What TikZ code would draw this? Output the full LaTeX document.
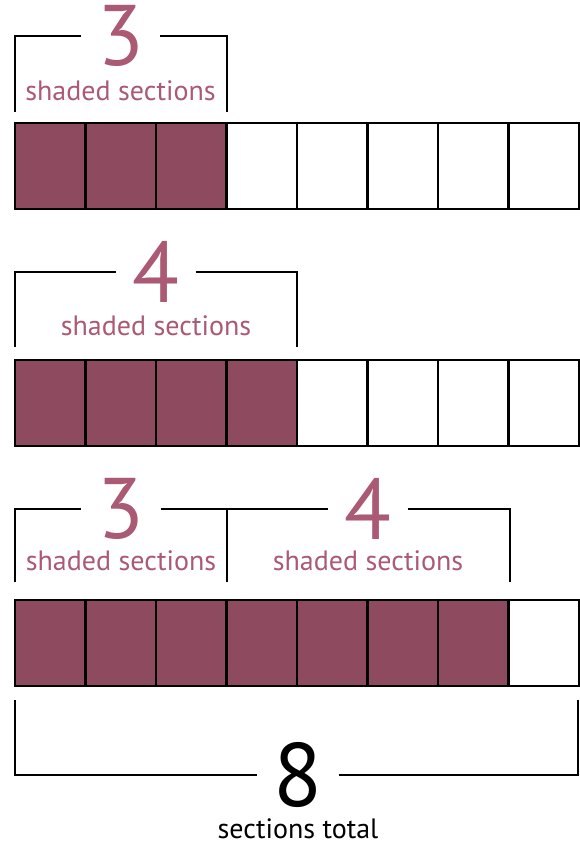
\documentclass[tikz,border=0pt]{standalone}
\usepackage{fontspec}
\setmainfont{PT Sans}
\definecolor{fillshade}{HTML}{8E4A5F}
\definecolor{txtshade}{HTML}{AA5A73}

\begin{document}
\begin{tikzpicture}[
        x=1pt, y=-1pt,
        cell/.style={rectangle, draw=black, line width=2.5pt, fill=white,
                     minimum width=70.5pt, minimum height=86pt,
                     inner sep=0pt, outer sep=0pt},
        shaded/.style={cell, fill=fillshade},
        num/.style={text=txtshade, font=\fontsize{86}{86}\selectfont,
                    inner xsep=16pt, inner ysep=0pt},
        lbl/.style={text=txtshade, font=\fontsize{28}{32}\selectfont,
                    inner sep=0pt},
        brace/.style={line width=2.5pt}
      ]
        \useasboundingbox (0,0) rectangle (580,842);

        % first strip: 3 of 8
        \foreach \i in {1,...,3}
          \node[shaded] (a\i) at ({15+70.5*(\i-0.5)},166) {};
        \foreach \i in {4,...,8}
          \node[cell] (a\i) at ({15+70.5*(\i-0.5)},166) {};
        \coordinate (a1l) at (15,112);
        \coordinate (a1r) at (227,112);
        \node[num] (na) at (120.5,36) {3};
        \node[lbl] (la) at (120.5,91) {shaded sections};
        \draw[brace] (a1l) |- (na.west);
        \draw[brace] (na.east) -| (a1r);

        % second strip: 4 of 8
        \foreach \i in {1,...,4}
          \node[shaded] (b\i) at ({15+70.5*(\i-0.5)},403) {};
        \foreach \i in {5,...,8}
          \node[cell] (b\i) at ({15+70.5*(\i-0.5)},403) {};
        \coordinate (b1l) at (15,347);
        \coordinate (b1r) at (297,347);
        \node[num] (nb) at (156,272) {4};
        \node[lbl] (lb) at (156,326) {shaded sections};
        \draw[brace] (b1l) |- (nb.west);
        \draw[brace] (nb.east) -| (b1r);

        % third strip: 3 + 4 of 8
        \foreach \i in {1,...,7}
          \node[shaded] (c\i) at ({15+70.5*(\i-0.5)},643) {};
        \node[cell] (c8) at ({15+70.5*7.5},643) {};
        \coordinate (c1l) at (15,582);
        \coordinate (c1m) at (227,582);
        \coordinate (c1r) at (510,582);
        \node[num] (nc) at (121,509) {3};
        \node[num] (nd) at (368,509) {4};
        \node[lbl] (lc) at (121,561) {shaded sections};
        \node[lbl] (ld) at (368,561) {shaded sections};
        \draw[brace] (c1l) |- (nc.west);
        \draw[brace] (nc.east) -| (c1m);
        \draw[brace] (c1m) |- (nd.west);
        \draw[brace] (nd.east) -| (c1r);

        % total
        \coordinate (t1l) at (15,700);
        \coordinate (t1r) at (578,700);
        \node[num, text=black, font=\fontsize{90}{90}\selectfont] (nt) at (298,775) {8};
        \node[lbl, text=black] (lt) at (298,829) {sections total};
        \draw[brace] (t1l) |- (nt.west);
        \draw[brace] (nt.east) -| (t1r);
      \end{tikzpicture}
\end{document}
